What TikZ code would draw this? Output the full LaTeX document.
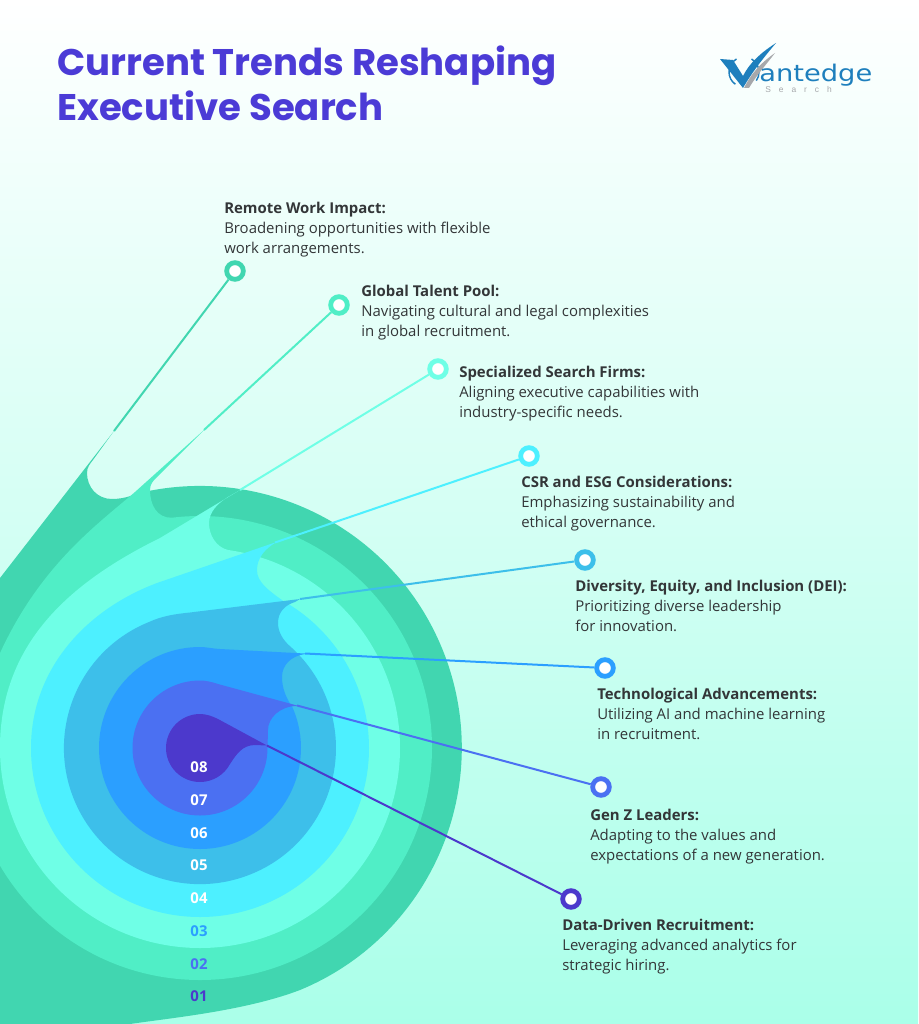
\documentclass[tikz,border=0pt]{standalone}
\usepackage{fontspec}
\setmainfont{Open Sans}
\newfontfamily\titlefont{Poppins}
\newfontfamily\logofont{DejaVu Sans}
\newfontfamily\logosmall[LetterSpace=95]{Liberation Sans}
\definecolor{layerA}{HTML}{41D6B0}
\definecolor{layerB}{HTML}{50EEC6}
\definecolor{layerC}{HTML}{6FFFE6}
\definecolor{layerD}{HTML}{4DF0FF}
\definecolor{layerE}{HTML}{3DBFEA}
\definecolor{layerF}{HTML}{2B9FFF}
\definecolor{layerG}{HTML}{4B70F2}
\definecolor{layerH}{HTML}{4C39CC}
\definecolor{titleblue}{HTML}{4B3BD6}
\definecolor{logoblue}{HTML}{1E7FBD}
\definecolor{logogrey}{HTML}{A6A8AB}
\definecolor{bodytext}{HTML}{333638}
\definecolor{bgmid}{HTML}{E2FFF8}
\definecolor{bgbottom}{HTML}{AAFFE9}
\begin{document}
\begin{tikzpicture}[x=0.75pt,y=0.75pt,yscale=-1,xscale=1,
  ring/.style={circle,draw=#1,fill=white,line width=3.6pt,minimum size=12.5pt,inner sep=0pt},
  conn/.style={line width=1.5pt,draw=#1},
  txtbox/.style={anchor=north west,inner sep=0pt,align=left,text=bodytext,font=\fontsize{11.2}{15}\selectfont},
  num/.style={inner sep=0pt,text=#1,font=\fontsize{11.2}{13}\selectfont\bfseries}]
\useasboundingbox (0,0) rectangle (918,1024);
\clip (0,0) rectangle (918,1024);

% Background
    \shade[top color=white,middle color=bgmid,bottom color=bgbottom] (0,0) rectangle (918,1024);

% Ends of the layer bodies
    \coordinate (endA) at (114,431);
    \coordinate (endB) at (204,430);
    \coordinate (endC) at (240,490);
    \coordinate (endD) at (275,542.5);
    \coordinate (endE) at (300,599);
    \coordinate (endF) at (305,653.5);
    \coordinate (endG) at (297,705.5);
    \coordinate (endH) at (267,745.5);

%Layer 01
    \fill[layerA] (endA) -- (0,578) -- (0,1024) -- (130,1024) .. controls (170,1018) and (245,1011) .. (300,990) arc[start angle=67.5,end angle=-101,radius=262] .. controls (142,492) and (135,495) .. (132,495.5) .. controls (125,498) and (118,499) .. (112,499) .. controls (97,499) and (87,487) .. (87,473) .. controls (87,467) and (90,464) .. (93,460) -- cycle;
    \draw (235,271) node (dotA) [ring=layerA] {};
    \draw[conn=layerA] (dotA) -- (endA);
%Layer 02
    \fill[layerB] (endB) -- (135,492) .. controls (85,535) and (5,590) .. (-32,748) arc[start angle=180,end angle=-97,radius=232] .. controls (157,518) and (150,505) .. (150,490) .. controls (150,484) and (153,481) .. (157,477) -- cycle;
    \draw (339,305) node (dotB) [ring=layerB] {};
    \draw[conn=layerB] (dotB) -- (endB);
%Layer 03
    \fill[layerC] (endC) -- (160,538) .. controls (75,580) and (0,640) .. (0,748) arc[start angle=180,end angle=-82,radius=200] .. controls (216,547) and (209,535) .. (209,523) .. controls (209,512) and (218,503) .. (228,497) -- cycle;
    \draw (438,369) node (dotC) [ring=layerC] {};
    \draw[conn=layerC] (dotC) -- (endC);
%Layer 04
    \fill[layerD] (endD) -- (157,583) .. controls (85,610) and (31,670) .. (31,748) arc[start angle=180,end angle=-60.6,radius=169] .. controls (268,590) and (257,582) .. (257,570) .. controls (257,558) and (265,549) .. (275,543) -- cycle;
    \draw (529,456) node (dotD) [ring=layerD] {};
    \draw[conn=layerD] (dotD) -- (endD);
%Layer 05
    \fill[layerE] (endE) -- (190,612.5) .. controls (175,614) and (162,616) .. (149,622) arc[start angle=248,end angle=-48.6,radius=136] .. controls (283,640) and (278,632) .. (278,623) .. controls (278,612) and (285,605) .. (295,602) -- cycle;
    \draw (585,560) node (dotE) [ring=layerE] {};
    \draw[conn=layerE] (dotE) -- (endE);
%Layer 06
    \fill[layerF] (endF) -- (220,649) .. controls (212,648.5) and (206,647) .. (200,647) arc[start angle=270,end angle=-24,radius=101] .. controls (286,698) and (282,688) .. (282,677) .. controls (282,665) and (291,656) .. (305,654) -- cycle;
    \draw (605,668) node (dotF) [ring=layerF] {};
    \draw[conn=layerF] (dotF) -- (endF);
%Layer 07
    \fill[layerG] (endG) -- (218,684) .. controls (212,682) and (206,680.5) .. (200,680.5) arc[start angle=270,end angle=0,radius=67.5] -- (268,730) .. controls (268,718) and (280,706) .. (297,706) -- cycle;
    \draw (601,787) node (dotG) [ring=layerG] {};
    \draw[conn=layerG] (dotG) -- (endG);
%Layer 08
    \fill[layerH] (endH) -- (218,719) .. controls (212,716) and (206,714) .. (200,714) arc[start angle=270,end angle=28,radius=34] .. controls (236,755) and (242,745) .. (255,745) -- cycle;
    \draw (571,899) node (dotH) [ring=layerH] {};
    \draw[conn=layerH] (dotH) -- (endH);

% Numbers
    \draw (199,767) node (numH) [num=white] {08};
    \draw (199,800) node (numG) [num=white] {07};
    \draw (199,833) node (numF) [num=white] {06};
    \draw (199,865) node (numE) [num=white] {05};
    \draw (199,898) node (numD) [num=white] {04};
    \draw (199,931) node (numC) [num=layerF] {03};
    \draw (199,964) node (numB) [num=layerG] {02};
    \draw (199,996) node (numA) [num=layerH] {01};

% Title
    \draw (57,45.5) node (titleNode) [anchor=north west,inner sep=0pt,align=left,text=titleblue,font=\titlefont\fontsize{27.8}{33.75}\selectfont\bfseries] {Current Trends Reshaping\\Executive Search};

% Logo
    \draw[logoblue,line width=1.1pt] (744,72) ++(-120:15) arc[start angle=-120,end angle=-235,radius=15];
    \draw[logoblue,line width=1.1pt] (744,72) ++(-60:15) arc[start angle=-60,end angle=35,radius=15];
    \fill[logogrey] (744,88) .. controls (752,72) and (762,62) .. (775,53) .. controls (765,66) and (756,76) .. (749,88) -- cycle;
    \fill[logoblue] (720,59) -- (733,60) -- (743,76) .. controls (750,62) and (762,52) .. (776,43) .. controls (765,56) and (752,72) .. (743,88) -- cycle;
    \draw (759,82) node (logoText) [anchor=base west,inner sep=0pt,text=logoblue,xscale=1.19,font=\logofont\fontsize{17.2}{20}\selectfont] {antedge};
    \draw (765,93) node (logoSub) [anchor=base west,inner sep=0pt,text=logogrey,font=\logosmall\fontsize{6.3}{8}\selectfont] {Search};

% Text Node
    \draw (224,202) node (txtA) [txtbox] {\textbf{Remote Work Impact:}\\Broadening opportunities with flexible\\work arrangements.};
% Text Node
    \draw (361,285) node (txtB) [txtbox] {\textbf{Global Talent Pool:}\\Navigating cultural and legal complexities\\in global recruitment.};
% Text Node
    \draw (459,366) node (txtC) [txtbox] {\textbf{Specialized Search Firms:}\\Aligning executive capabilities with\\industry-specific needs.};
% Text Node
    \draw (521,476) node (txtD) [txtbox] {\textbf{CSR and ESG Considerations:}\\Emphasizing sustainability and\\ethical governance.};
% Text Node
    \draw (575,580) node (txtE) [txtbox] {\textbf{Diversity, Equity, and Inclusion (DEI):}\\Prioritizing diverse leadership\\for innovation.};
% Text Node
    \draw (597,688) node (txtF) [txtbox] {\textbf{Technological Advancements:}\\Utilizing AI and machine learning\\in recruitment.};
% Text Node
    \draw (590,809) node (txtG) [txtbox] {\textbf{Gen Z Leaders:}\\Adapting to the values and\\expectations of a new generation.};
% Text Node
    \draw (562,919) node (txtH) [txtbox] {\textbf{Data-Driven Recruitment:}\\Leveraging advanced analytics for\\strategic hiring.};

\end{tikzpicture}
\end{document}
